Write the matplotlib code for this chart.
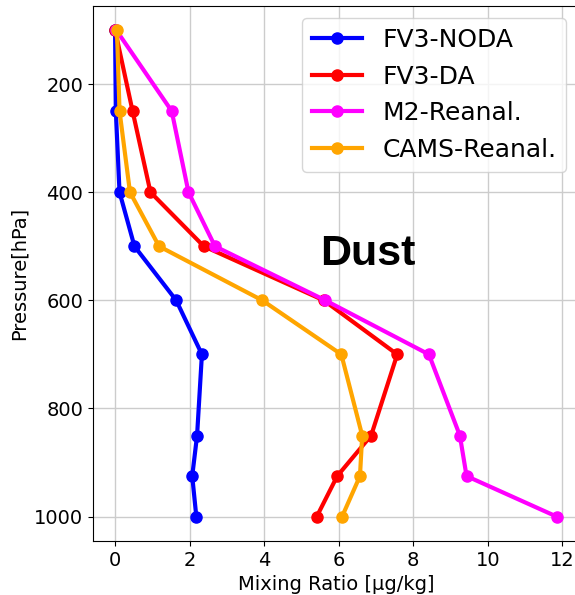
import matplotlib
matplotlib.use("Agg")
import matplotlib.pyplot as plt

# Pressure levels [hPa] and dust mixing ratio profiles [ug/kg]
pressure = [100, 250, 400, 500, 600, 700, 850, 925, 1000]
fv3_noda = [0.0, 0.02, 0.12, 0.52, 1.64, 2.33, 2.20, 2.07, 2.18]
fv3_da = [0.0, 0.47, 0.95, 2.38, 5.6, 7.57, 6.87, 5.96, 5.41]
m2_reanal = [0.03, 1.52, 1.97, 2.68, 5.64, 8.42, 9.25, 9.43, 11.85]
cams_reanal = [0.05, 0.12, 0.40, 1.18, 3.95, 6.07, 6.63, 6.57, 6.09]

series = [
    ("FV3-NODA", fv3_noda, "blue"),
    ("FV3-DA", fv3_da, "red"),
    ("M2-Reanal.", m2_reanal, "magenta"),
    ("CAMS-Reanal.", cams_reanal, "orange"),
]

fig = plt.figure(figsize=(5.75, 5.95), dpi=100)
ax = fig.add_axes([0.1617, 0.0908, 0.845, 0.8997])

for label, values, color in series:
    ax.plot(values, pressure, "-o", color=color, label=label,
            linewidth=3, markersize=8)

ax.invert_yaxis()
ax.set_yticks([200, 400, 600, 800, 1000])
ax.set_xticks([0, 2, 4, 6, 8, 10, 12])
ax.tick_params(labelsize=14)
ax.grid(True, color="#cccccc", linewidth=1)

ax.set_xlabel("Mixing Ratio [\u00b5g/kg]", fontsize=14)
ax.set_ylabel("Pressure[hPa]", fontsize=14)

ax.legend(loc="upper right", fontsize=18)

ax.text(5.5, 535, "Dust", fontsize=31, fontweight="bold",
        family="Liberation Sans", va="baseline")

fig.savefig("out.png", dpi=100)
